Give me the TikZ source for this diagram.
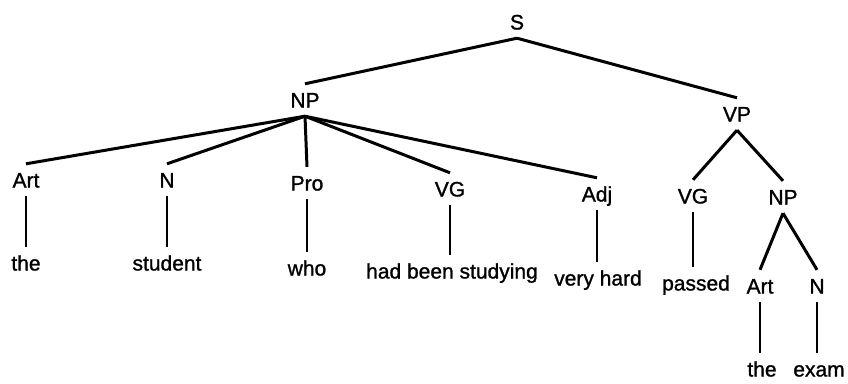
\documentclass[tikz,border=0pt]{standalone}
\usepackage{fontspec}
\setmainfont{Liberation Sans}
% slightly heavier face for the tree labels
\newfontfamily\treefont{Liberation Sans}[RawFeature={embolden=1.2}]
\begin{document}
\begin{tikzpicture}[x=1pt,y=-1pt,
  lbl/.style={font=\treefont\fontsize{21}{24}\selectfont, text height=15pt,
    text depth=0pt, inner sep=0pt, minimum height=32pt},
  branch/.style={line width=3pt},
  stem/.style={line width=1.7pt}]
\useasboundingbox (0,0) rectangle (848,383);

% categories
\node[lbl] (S)    at (517,22)  {S};
\node[lbl] (NPa)  at (305,100) {NP};
\node[lbl] (VP)   at (737,114) {VP};
\node[lbl] (ArtA) at (26,180)  {Art};
\node[lbl] (Na)   at (167,180) {N};
\node[lbl] (Pro)  at (307,183) {Pro};
\node[lbl] (VGa)  at (450,189) {VG};
\node[lbl] (Adj)  at (597,194) {Adj};
\node[lbl] (VGb)  at (693,196) {VG};
\node[lbl] (NPb)  at (783,197) {NP};
\node[lbl] (ArtB) at (760,286) {Art};
\node[lbl] (Nb)   at (817,286) {N};

% words
\node[lbl] (wThe)     at (26,263)  {the};
\node[lbl] (wStudent) at (167,263) {student};
\node[lbl] (wWho)     at (307,268) {who};
\node[lbl] (wHbs)     at (452,271) {had been studying};
\node[lbl] (wVery)    at (598,278) {very hard};
\node[lbl] (wPassed)  at (696,283) {passed};
\node[lbl] (wTheB)    at (762,369) {the};
\node[lbl] (wExam)    at (819,369) {exam};

% branches
\draw[branch] (S.south) -- (NPa.north);
\draw[branch] (S.south) -- (VP.north);
\foreach \c in {ArtA,Na,Pro,VGa,Adj}
  \draw[branch] (NPa.south) -- (\c.north);
\draw[branch] (VP.south) -- (VGb.north);
\draw[branch] (VP.south) -- (NPb.north);
\draw[branch] (NPb.south) -- (ArtB.north);
\draw[branch] (NPb.south) -- (Nb.north);

% stems down to the words
\draw[stem] (ArtA.south) -- (ArtA.south |- wThe.north);
\draw[stem] (Na.south)   -- (Na.south |- wStudent.north);
\draw[stem] (Pro.south)  -- (Pro.south |- wWho.north);
\draw[stem] (VGa.south)  -- (VGa.south |- wHbs.north);
\draw[stem] (Adj.south)  -- (Adj.south |- wVery.north);
\draw[stem] (VGb.south)  -- (VGb.south |- wPassed.north);
\draw[stem] (ArtB.south) -- (ArtB.south |- wTheB.north);
\draw[stem] (Nb.south)   -- (Nb.south |- wExam.north);
\end{tikzpicture}
\end{document}
